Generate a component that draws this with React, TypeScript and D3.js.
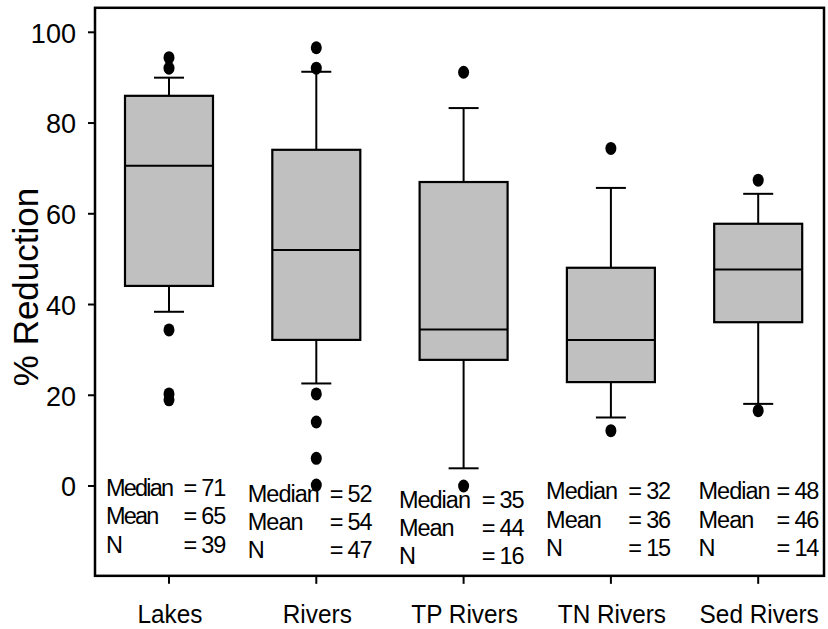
import React from "react";
import * as d3 from "d3";

// box plot values (% reduction)
const categories = ["Lakes", "Rivers", "TP Rivers", "TN Rivers", "Sed Rivers"];
const q1 = [44.1, 32.2, 27.8, 22.9, 36.1];
const medians = [70.6, 52.0, 34.5, 32.2, 47.7];
const q3 = [86.0, 74.1, 67.0, 48.1, 57.8];
const whiskerLow = [38.4, 22.6, 3.9, 15.1, 18.1];
const whiskerHigh = [90.0, 91.3, 83.3, 65.7, 64.4];
const outliers = [
  [94.4, 92.1, 34.4, 20.3, 19.0],
  [96.6, 92.1, 20.3, 14.1, 6.1, 0.2],
  [91.2, 0.0],
  [74.4, 12.2],
  [67.4, 16.6],
];
const medianLabels = [71, 52, 35, 32, 48];
const meanLabels = [65, 54, 44, 36, 46];
const nLabels = [39, 47, 16, 15, 14];
const yTicks = [0, 20, 40, 60, 80, 100];
const yMin = -19.8;
const yMax = 105.4;

// layout
const W = 828;
const H = 629;
const frameLeft = 95;
const frameRight = 824;
const boxW = 88;
const capW = 30;
const font = "'Liberation Sans', Arial, Helvetica, sans-serif";
const annLeft = [-63, -68.5, -64.7, -64.8, -59.7];
const annRight = [56, 55, 59.7, 59, 60];
const annTop = [496, 501.7, 507.7, 499.3, 499.3];
const annGap = 28.3;

const y = d3.scaleLinear().domain([0, 100]).range([486, 32.3]);
const x = d3.scalePoint<string>().domain(categories).range([169, 758.2]);

export default function App() {
  const top = y(yMax);
  const bottom = y(yMin);
  return (
    <svg
      width={W}
      height={H}
      style={{ position: "absolute", left: 0, top: 0, background: "#fff" }}
      fontFamily={font}
    >
      {categories.map((c, i) => {
        const cx = x(c)!;
        return (
          <g key={c} stroke="#000" strokeWidth={2}>
            <line x1={cx} x2={cx} y1={y(q3[i])} y2={y(whiskerHigh[i])} />
            <line x1={cx} x2={cx} y1={y(q1[i])} y2={y(whiskerLow[i])} />
            <line x1={cx - capW / 2} x2={cx + capW / 2} y1={y(whiskerHigh[i])} y2={y(whiskerHigh[i])} />
            <line x1={cx - capW / 2} x2={cx + capW / 2} y1={y(whiskerLow[i])} y2={y(whiskerLow[i])} />
            <rect
              x={cx - boxW / 2}
              y={y(q3[i])}
              width={boxW}
              height={y(q1[i]) - y(q3[i])}
              fill="#c0c0c0"
              strokeWidth={2.2}
            />
            <line x1={cx - boxW / 2} x2={cx + boxW / 2} y1={y(medians[i])} y2={y(medians[i])} />
            {outliers[i].map((v, j) => (
              <ellipse key={j} cx={cx} cy={y(v)} rx={5.5} ry={6.5} fill="#000" stroke="none" />
            ))}
          </g>
        );
      })}

      {/* stats text */}
      {categories.map((c, i) => {
        const cx = x(c)!;
        const rows = [
          ["Median", `= ${medianLabels[i]}`],
          ["Mean", `= ${meanLabels[i]}`],
          ["N", `= ${nLabels[i]}`],
        ];
        return (
          <g key={c} fontSize={23.5} fill="#000">
            {rows.map((r, k) => (
              <g key={k}>
                <text x={cx + annLeft[i]} y={annTop[i] + k * annGap} letterSpacing={i === 0 ? -1.8 : -1}>
                  {r[0]}
                </text>
                <text x={cx + annRight[i]} y={annTop[i] + k * annGap} textAnchor="end" letterSpacing={-1.2}>
                  {r[1]}
                </text>
              </g>
            ))}
          </g>
        );
      })}

      {/* frame */}
      <rect
        x={frameLeft}
        y={top}
        width={frameRight - frameLeft}
        height={bottom - top}
        fill="none"
        stroke="#000"
        strokeWidth={2.5}
      />

      {/* y axis */}
      {yTicks.map((t) => (
        <g key={t}>
          <line x1={frameLeft - 7} x2={frameLeft} y1={y(t)} y2={y(t)} stroke="#000" strokeWidth={2} />
          <text
            transform={`translate(76,${y(t)}) scale(0.95,1)`}
            textAnchor="end"
            dy="0.36em"
            fontSize={28.5}
          >
            {t}
          </text>
        </g>
      ))}
      <text
        transform={`translate(37.5,287) rotate(-90)`}
        textAnchor="middle"
        fontSize={35}
      >
        % Reduction
      </text>

      {/* x axis */}
      {categories.map((c) => (
        <g key={c}>
          <line x1={x(c)!} x2={x(c)!} y1={bottom} y2={bottom + 8} stroke="#000" strokeWidth={2} />
          <text
            transform={`translate(${x(c)! + 1},623) scale(0.92,1)`}
            textAnchor="middle"
            fontSize={26.5}
          >
            {c}
          </text>
        </g>
      ))}
    </svg>
  );
}
